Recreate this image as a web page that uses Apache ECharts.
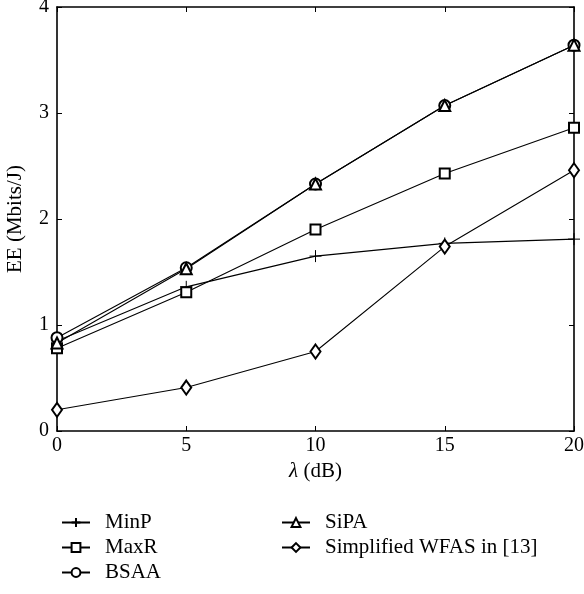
<!DOCTYPE html>
<html lang="en" style="height: 100%">
<head>
  <meta charset="utf-8">
</head>
<body style="height: 100%; margin: 0; background: #fff">
  <div id="container" style="width: 584px; height: 594px"></div>
  <script type="text/javascript" src="https://cdn.jsdelivr.net/npm/echarts@6/dist/echarts.min.js"></script>
  <script type="text/javascript">
    // data
    const lambda = [0, 5, 10, 15, 20];
    const minP = [0.85, 1.36, 1.65, 1.77, 1.81];
    const maxR = [0.78, 1.31, 1.90, 2.43, 2.86];
    const bsaa = [0.88, 1.54, 2.33, 3.07, 3.64];
    const sipa = [0.83, 1.53, 2.33, 3.07, 3.64];
    const wfas = [0.20, 0.41, 0.75, 1.74, 2.46];

    var dom = document.getElementById('container');
    var myChart = echarts.init(dom, null, { renderer: 'canvas' });

    const font = 'Liberation Serif';
    const axisLine = { show: true, onZero: false, lineStyle: { color: '#000', width: 1.6 } };
    const tick = { show: true, inside: true, length: 5, lineStyle: { color: '#000', width: 1 } };

    function pairs(ys) {
      return lambda.map(function (x, i) { return [x, ys[i]]; });
    }

    function line(name, ys, symbol, size) {
      return {
        name: name,
        type: 'line',
        data: pairs(ys),
        symbol: symbol,
        symbolSize: size,
        showSymbol: true,
        lineStyle: { color: '#000', width: 1.1 },
        itemStyle: { color: '#000', borderColor: '#000', borderWidth: 1 },
        emphasis: { disabled: true },
        animation: false
      };
    }

    const legendText = { fontFamily: font, fontSize: 21, color: '#000', padding: [0, 0, 0, 10] };

    var option = {
      backgroundColor: '#fff',
      textStyle: { fontFamily: font, color: '#000' },
      grid: { left: 57, right: 10, top: 7, bottom: 163, outerBoundsMode: 'none', containLabel: false },
      legend: [
        {
          data: ['MinP', 'MaxR', 'BSAA'],
          orient: 'vertical',
          left: 56,
          top: 507,
          itemWidth: 28,
          itemHeight: 11,
          itemGap: 4,
          textStyle: legendText
        },
        {
          data: ['SiPA', 'Simplified WFAS in [13]'],
          orient: 'vertical',
          left: 276,
          top: 507,
          itemWidth: 28,
          itemHeight: 11,
          itemGap: 4,
          textStyle: legendText
        }
      ],
      xAxis: [
        {
          type: 'value',
          min: 0,
          max: 20,
          interval: 5,
          axisLine: axisLine,
          axisTick: tick,
          splitLine: { show: false },
          axisLabel: { fontFamily: font, fontSize: 20, color: '#000', margin: 5 },
          name: '{i|λ} (dB)',
          nameLocation: 'middle',
          nameGap: 30,
          nameTextStyle: {
            fontFamily: font,
            fontSize: 21,
            color: '#000',
            rich: { i: { fontFamily: font, fontStyle: 'italic', fontSize: 21, color: '#000' } }
          }
        },
        {
          type: 'value',
          position: 'top',
          min: 0,
          max: 20,
          interval: 5,
          axisLine: axisLine,
          axisTick: tick,
          splitLine: { show: false },
          axisLabel: { show: false }
        }
      ],
      yAxis: [
        {
          type: 'value',
          min: 0,
          max: 4,
          interval: 1,
          axisLine: axisLine,
          axisTick: tick,
          splitLine: { show: false },
          axisLabel: { fontFamily: font, fontSize: 20, color: '#000', margin: 8 },
          name: 'EE (Mbits/J)',
          nameLocation: 'middle',
          nameGap: 31,
          nameTextStyle: { fontFamily: font, fontSize: 21, color: '#000' }
        },
        {
          type: 'value',
          position: 'right',
          min: 0,
          max: 4,
          interval: 1,
          axisLine: axisLine,
          axisTick: tick,
          splitLine: { show: false },
          axisLabel: { show: false }
        }
      ],
      series: [
        line('MinP', minP, 'path://M5,0L5,10M0,5L10,5', 12),
        line('MaxR', maxR, 'emptyRect', 10),
        line('BSAA', bsaa, 'emptyCircle', 11),
        line('SiPA', sipa, 'emptyTriangle', 11),
        line('Simplified WFAS in [13]', wfas, 'emptyDiamond', [10, 14])
      ]
    };

    myChart.setOption(option);
    window.addEventListener('resize', myChart.resize);
  </script>
</body>
</html>
